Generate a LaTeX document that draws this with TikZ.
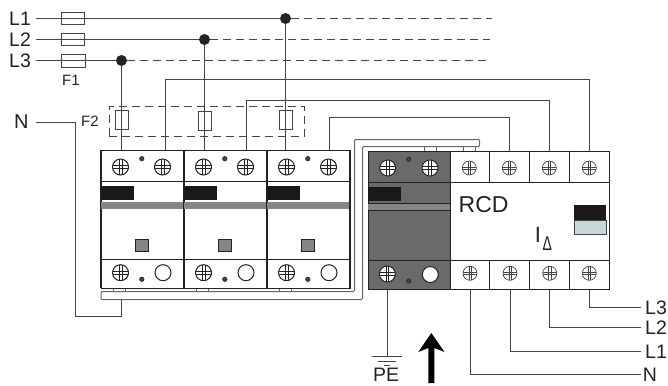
\documentclass[tikz,border=0pt]{standalone}
\usepackage{fontspec}
\setmainfont{Liberation Sans}
\definecolor{ink}{HTML}{222222}
\definecolor{wiregrey}{HTML}{444444}
\definecolor{busgrey}{HTML}{666666}
\definecolor{modgrey}{HTML}{6A6A6A}
\definecolor{bandgrey}{HTML}{858585}
\definecolor{pale}{HTML}{C5D8D8}
\newcommand{\fs}[1]{\fontsize{#1}{#1}\selectfont}
\tikzset{
  wire/.style={draw=wiregrey,line width=1.2pt},
  dashwire/.style={draw=wiregrey,line width=1.2pt,dash pattern=on 8pt off 5pt},
  fuse/.style={draw=wiregrey,line width=0.9pt,rectangle,inner sep=0pt,minimum width=#1},
  housing/.style={draw=ink,line width=1.2pt},
  junction/.style={circle,fill=ink,inner sep=0pt,minimum size=11pt},
  biglabel/.style={inner sep=0pt,text=ink,font=\fs{19.5}},
  smalllabel/.style={inner sep=0pt,text=ink,font=\fs{15}},
  pics/screw/.style={code={
    \filldraw[fill=white,draw=ink,line width=1pt] (0,0) circle (#1);
    \draw[ink,line width=0.6pt] (-1.3,-#1) -- (-1.3,#1) (1.3,-#1) -- (1.3,#1)
      (-#1,-1.3) -- (#1,-1.3) (-#1,1.3) -- (#1,1.3);
  }},
  pics/lightscrew/.style={code={
    \filldraw[fill=white,draw=wiregrey,line width=0.7pt] (0,0) circle (#1);
    \draw[wiregrey,line width=0.45pt] (-1.2,-#1) -- (-1.2,#1) (1.2,-#1) -- (1.2,#1)
      (-#1,-1.2) -- (#1,-1.2) (-#1,1.2) -- (#1,1.2);
  }},
  pics/pin/.style={code={
    \filldraw[fill=wiregrey,draw=ink,line width=0.5pt] (0,0) circle (2.3);
  }},
  pics/hole/.style={code={
    \filldraw[fill=white,draw=ink,line width=1pt] (0,0) circle (8);
  }}
}
\begin{document}
\begin{tikzpicture}[x=1pt,y=-1pt]
\useasboundingbox (0,0) rectangle (668,385);
% labels
\node[biglabel,anchor=west] (lA) at (9,18.7) {L1};
\node[biglabel,anchor=west] (lB) at (9,40) {L2};
\node[biglabel,anchor=west] (lC) at (9,61) {L3};
\node[biglabel,anchor=west,font=\fs{20}] (lN) at (14,121.7) {N};
\node[smalllabel,anchor=center] (fa) at (71,80) {F1};
\node[smalllabel,anchor=center] (fb) at (90,121) {F2};
% free ends
\coordinate (sA) at (36,18.5);
\coordinate (sB) at (36,39.5);
\coordinate (sC) at (36,60.5);
\coordinate (sN) at (36,122.5);
\coordinate (eA) at (492,18.5);
\coordinate (eB) at (490,39.5);
\coordinate (eC) at (490,60.5);
% bus bar
\draw[draw=busgrey,line width=1pt,fill=white,rounded corners=1pt]
  (101,291.5) -- (354.5,291.5) -- (354.5,139.5) -- (479.5,139.5) -- (479.5,146.5) -- (362.5,146.5) -- (362.5,299.5) -- (101,299.5) -- cycle;
\foreach \x in {113.5,125.5,196.5,208.5,279.5,291.5} \draw[busgrey,line width=0.9pt] (\x,288) -- (\x,292);
\foreach \x in {424.5,436.5,463.5,475.5} \draw[busgrey,line width=0.9pt] (\x,146.5) -- (\x,150.7);
% neutral
\coordinate (nb) at (121.5,299.5);
\draw[wire] (sN) -- (75.5,122.5) -- (75.5,316.5) -- (121.5,316.5) -- (nb);
% breakers
\foreach \i/\x in {0/100.5,1/183.5,2/266.5}{
  \node[housing,rectangle,minimum width=83pt,minimum height=138.5pt,anchor=north west,inner sep=0pt,fill=white] (brk\i) at (\x,149.5) {};
  \fill[black!90] (\x,186) rectangle ++(33.5,14);
  \fill[bandgrey] (\x,202) rectangle ++(83,6.7);
  \draw[ink,line width=1.1pt] (\x,181.5) -- ++(83,0) (\x,259.5) -- ++(83,0);
  \filldraw[fill=bandgrey,draw=ink,line width=1pt] (\x+34.5,239.5) rectangle ++(13,12);
  \pic at (\x+20,167) {screw=8};
  \pic at (\x+62,167) {screw=8};
  \pic at (\x+41.3,158.7) {pin};
  \pic at (\x+20,272.7) {screw=8};
  \pic at (\x+62.5,272.7) {hole};
  \pic at (\x+41.3,279.3) {pin};
}
\draw[ink,line width=1.7pt] (183.5,149.5) -- (183.5,288) (266.5,149.5) -- (266.5,288);
\draw[ink,line width=1.2pt] (100.5,149.5) -- (100.5,288) (349.5,149.5) -- (349.5,288);
% grey module
\node[housing,rectangle,minimum width=82.3pt,minimum height=138.3pt,anchor=north west,inner sep=0pt,fill=modgrey] (spd) at (367.7,150.7) {};
\fill[black!90] (368,187.3) rectangle (401,201);
\fill[bandgrey] (368,203.7) rectangle (450,210);
\draw[ink,line width=1pt] (367.7,182) -- (450,182) (367.7,203.7) -- (450,203.7) (367.7,210) -- (450,210) (367.7,260.7) -- (450,260.7);
\pic at (387.7,168) {screw=8};
\pic at (430,168) {screw=8};
\pic at (408.7,159.3) {pin};
\pic at (387.3,274) {screw=8};
\pic at (430.3,274.5) {hole};
\pic at (408.7,281) {pin};
% RCD
\node[housing,rectangle,minimum width=159pt,minimum height=138.3pt,anchor=north west,inner sep=0pt,fill=white] (rcd) at (450,150.7) {};
\draw[ink,line width=1pt] (450,182.3) -- (609,182.3) (450,260) -- (609,260);
\foreach \x in {489.7,529.3,569.3} \draw[ink,line width=1pt] (\x,150.7) -- (\x,182.3) (\x,260) -- (\x,289);
\foreach \x in {469.3,509.3,549.3,589.3} \pic at (\x,168) {lightscrew=7};
\foreach \x in {470,510,549.7,589.3} \pic at (\x,273.3) {lightscrew=7};
\node[inner sep=0pt,text=ink,font=\fs{23},anchor=west] (rcdt) at (458.5,205) {RCD};
\node[inner sep=0pt,text=ink,font=\fs{22},anchor=center] (ii) at (538,234.7) {I};
\node[inner sep=0pt,text=ink,font=\fs{20},anchor=center] (dd) at (547.4,244) {\scalebox{0.7}[1]{Δ}};
\filldraw[fill=pale,draw=wiregrey,line width=0.8pt] (574,220) rectangle (606,234);
\fill[black!90] (574,204.7) rectangle (606,220.3);
% fuses and junctions
\node[fuse=23pt,minimum height=12.5pt] (fA) at (72.5,18.7) {};
\node[fuse=23pt,minimum height=12.5pt] (fB) at (72.5,39.7) {};
\node[fuse=24pt,minimum height=12.5pt] (fC) at (73,61) {};
\node[junction] (dA) at (285.5,18.5) {};
\node[junction] (dB) at (204.5,39.5) {};
\node[junction] (dC) at (121.5,60.5) {};
% line wires
\draw[wire] (sA) -- (dA);
\draw[wire] (sB) -- (dB);
\draw[wire] (sC) -- (dC);
\draw[dashwire] (dA) -- (eA);
\draw[dashwire] (dB) -- (eB);
\draw[dashwire] (dC) -- (eC);
\draw[wire] (165.5,149.5) -- (165.5,79.5) -- (589.5,79.5) -- (589.5,150.7);
\draw[wire] (246.5,149.5) -- (246.5,100.5) -- (549.5,100.5) -- (549.5,150.7);
\draw[wire] (329.5,149.5) -- (329.5,117.5) -- (509.5,117.5) -- (509.5,150.7);
\draw[wire] (dC) -- (121.5,149.5);
\draw[wire] (dB) -- (204.5,149.5);
\draw[wire] (dA) -- (285.5,149.5);
% F2
\node[draw=wiregrey,line width=1pt,dash pattern=on 8pt off 5pt,rectangle,inner sep=0pt,minimum width=195.5pt,minimum height=29.5pt,anchor=north west] (fbox) at (108.5,106) {};
\node[fuse=13pt,minimum height=19pt] (gA) at (121.5,119.5) {};
\node[fuse=13pt,minimum height=19pt] (gB) at (204.5,120.5) {};
\node[fuse=13pt,minimum height=19pt] (gC) at (285.5,119.7) {};
% earth
\coordinate (gnd) at (387.5,356.5);
\draw[wire] (387.5,289) -- (gnd);
\draw[wire] (372.3,356.5) -- (401.7,356.5) (378,361.5) -- (396,361.5);
\draw[wire,line width=0.8pt] (384,365.5) -- (390,365.5);
\node[inner sep=0pt,text=ink,font=\fs{19.5},anchor=center] (pe) at (386,375.2) {PE};
% arrow
\fill[black] (431.3,333) -- (444.5,352) -- (434.3,348) -- (434.3,383) -- (428.3,383) -- (428.3,348) -- (418.3,352) -- cycle;
% output wires
\node[biglabel,anchor=west] (oC) at (645,307.3) {L3};
\node[biglabel,anchor=west] (oB) at (645,327.7) {L2};
\node[biglabel,anchor=west] (oA) at (645,351.7) {L1};
\node[biglabel,anchor=west] (oN) at (642.7,374.3) {N};
\draw[wire] (589.5,289) -- (589.5,307.5) -- (641,307.5);
\draw[wire] (549.5,289) -- (549.5,327.5) -- (641,327.5);
\draw[wire] (510.5,289) -- (510.5,351.5) -- (641,351.5);
\draw[wire] (470.5,289) -- (470.5,374.5) -- (641,374.5);
\end{tikzpicture}
\end{document}
